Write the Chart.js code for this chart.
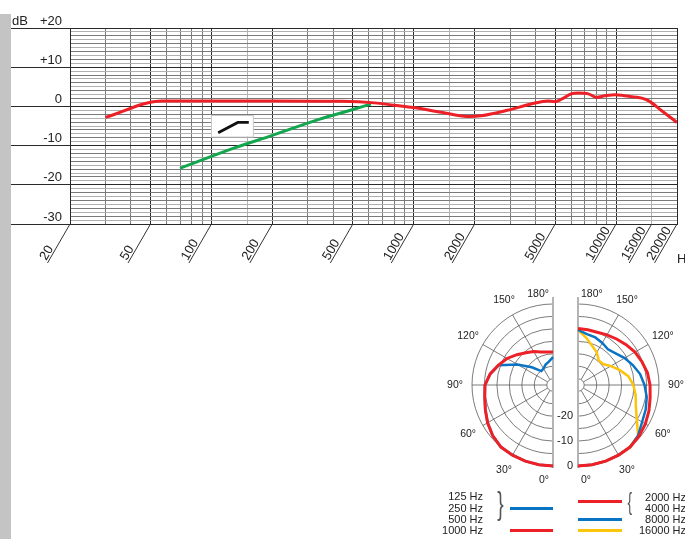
<!DOCTYPE html>
<html>
<head>
<meta charset="utf-8">
<script src="https://cdn.jsdelivr.net/npm/chart.js@4.4.1/dist/chart.umd.min.js"></script>
<style>
  html, body { margin: 0; padding: 0; background: #fff; overflow: hidden; }
  #page { position: relative; width: 685px; height: 539px; overflow: hidden; font-family: "Liberation Sans", Arial, sans-serif; }
  #strip { position: absolute; left: 0; top: 14px; width: 11px; height: 525px; background: #c4c4c4; }
  canvas { position: absolute; }
  .lg { position: absolute; font-size: 11px; line-height: 12px; color: #222; white-space: nowrap; }
  .sw { position: absolute; height: 3px; }
  .br { position: absolute; color: #555; line-height: 1; }
</style>
</head>
<body>
<div id="page">
  <div id="strip"></div>
  <canvas id="resp" width="685" height="290" style="left:0;top:0;"></canvas>
  <canvas id="polarLow" width="220" height="220" style="left:443px;top:275px;"></canvas>
  <canvas id="polarHigh" width="220" height="220" style="left:468px;top:275px;"></canvas>

  <!-- legend, left group -->
  <div class="lg" style="left:420px;width:63px;text-align:right;top:490px;">125 Hz</div>
  <div class="lg" style="left:420px;width:63px;text-align:right;top:501.5px;">250 Hz</div>
  <div class="lg" style="left:420px;width:63px;text-align:right;top:513px;">500 Hz</div>
  <div class="lg" style="left:420px;width:63px;text-align:right;top:524px;">1000 Hz</div>
  <div class="br" style="left:495px;top:487px;font-size:32px;transform:scaleX(0.6);">}</div>
  <div class="sw" style="left:510px;top:507px;width:43px;background:#0a74c4;"></div>
  <div class="sw" style="left:510px;top:529px;width:43px;background:#ee2027;"></div>

  <!-- legend, right group -->
  <div class="sw" style="left:578px;top:500px;width:44px;background:#ee2027;"></div>
  <div class="br" style="left:626px;top:491px;font-size:23px;transform:scaleX(0.6);">{</div>
  <div class="lg" style="left:620px;width:66px;text-align:right;top:490.5px;">2000 Hz</div>
  <div class="lg" style="left:620px;width:66px;text-align:right;top:501.5px;">4000 Hz</div>
  <div class="lg" style="left:620px;width:66px;text-align:right;top:513px;">8000 Hz</div>
  <div class="lg" style="left:620px;width:66px;text-align:right;top:523.5px;">16000 Hz</div>
  <div class="sw" style="left:578px;top:518px;width:44px;background:#0a74c4;"></div>
  <div class="sw" style="left:578px;top:529px;width:44px;background:#fcc40a;"></div>
</div>

<script>
    // frequency response (Hz / dB)
    var respHz = [30, 57, 100, 200, 440, 640, 800, 1000, 1370, 1900, 2150, 2900, 3800, 4600, 5000, 5400, 6000, 6500, 7300, 8000, 8800, 9900, 11000, 13400, 14500, 16800, 20000];
    var respDb = [-2.8, 1.4, 1.4, 1.4, 1.3, 0.9, 0.3, -0.3, -1.5, -2.6, -2.4, -1.0, 0.6, 1.4, 1.2, 1.9, 3.2, 3.4, 3.2, 2.3, 2.7, 3.0, 2.7, 2.1, 1.4, -1.1, -4.1];
    // bass cut filter
    var cutHz = [70, 130, 200, 340, 500, 614];
    var cutDb = [-15.8, -10.6, -7.4, -3.3, -0.8, 0.6];

    var freqTicks = [20, 30, 40, 50, 60, 70, 80, 90, 100, 150, 200, 300, 400, 500, 600, 700, 800, 900, 1000, 1500, 2000, 3000, 4000, 5000, 6000, 7000, 8000, 9000, 10000, 15000, 20000];
    var freqLabels = [20, 50, 100, 200, 500, 1000, 2000, 5000, 10000, 15000, 20000];
    var darkFreqs = [20, 50, 100, 200, 500, 1000, 2000, 5000, 10000, 20000];
    var dbMajor = [20, 10, 0, -10, -20, -30];
    var dbLabels = ['+20', '+10', '0', '-10', '-20', '-30'];

    // polar patterns, 0..180 deg in 10 deg steps
    var polarAngles = [0, 10, 20, 30, 40, 50, 60, 70, 80, 90, 100, 110, 120, 130, 140, 150, 160, 170, 180];
    var low1000 = [0, 0, 0, 0, 0, -0.9, -2.2, -3.6, -4.7, -5.2, -6.9, -9.2, -11.2, -13.6, -15.6, -17, -18.4, -19.1, -19.3];
    var low125to500 = [0, 0, 0, 0, 0, -0.9, -2.2, -3.6, -4.7, -5.2, -6.9, -9.3, -16, -21.4, -25.2, -24.9, -23.8, -23, -21.3];
    var high2000to4000 = [0, 0, 0, 0, 0, -0.5, -1.3, -2.2, -3.1, -3.6, -4.2, -5.2, -6.1, -7.3, -8.4, -9.3, -10, -10, -9.8];
    var high8000 = [0, 0, 0, 0, 0, -1.0, -2.8, -3.6, -4.5, -5.8, -7.2, -9.1, -10.9, -12.8, -13.8, -13, -12.2, -11.8, -10.4];
    var high16000 = [0, 0, 0, 0, 0, -1.0, -5.3, -7.8, -9.0, -10.3, -12.0, -14.8, -17.3, -19.4, -19.6, -17.4, -15.8, -13.3, -10.4];
    var ringValues = [-30, -25, -20, -15, -10, -5, 0];
    var ringLabels = ['-20', '-10', '0'];

    var RED = '#ee2027', GREEN = '#13a64f', BLUE = '#0a74c4', YELLOW = '#fcc40a';
    var FONT = '"Liberation Sans", Arial, sans-serif';

    function pts(xs, ys) {
        return xs.map(function (x, i) { return {x: x, y: ys[i]}; });
    }

    //labels, slanted ticks and the filter symbol
    var respDecor = {
        id: 'respDecor',
        afterDraw: function (chart) {
            var ctx = chart.ctx, xs = chart.scales.x, ys = chart.scales.y, area = chart.chartArea;
            ctx.save();
            ctx.fillStyle = '#222';
            ctx.font = '13px ' + FONT;
            ctx.textAlign = 'right';
            ctx.textBaseline = 'alphabetic';
            dbMajor.forEach(function (v, i) {
                ctx.fillText(dbLabels[i], 62, ys.getPixelForValue(v) - 3.5);
            });
            ctx.textAlign = 'left';
            ctx.fillText('dB', 12, ys.getPixelForValue(20) - 3.5);

            var ang = 60 * Math.PI / 180, len = 45;
            ctx.strokeStyle = '#333';
            ctx.lineWidth = 1;
            freqLabels.forEach(function (f) {
                var x = xs.getPixelForValue(f), y = area.bottom;
                var x2 = x - len * Math.cos(ang), y2 = y + len * Math.sin(ang);
                ctx.beginPath();
                ctx.moveTo(x, y);
                ctx.lineTo(x2, y2);
                ctx.stroke();
                ctx.save();
                ctx.translate(x2, y2);
                ctx.rotate(-ang);
                ctx.fillText(String(f), 1, -2);
                ctx.restore();
            });
            ctx.fillText('Hz', 677, 263);

            // filter symbol
            var bx1 = xs.getPixelForValue(100), bx2 = xs.getPixelForValue(161);
            var by1 = ys.getPixelForValue(-2.2), by2 = ys.getPixelForValue(-7.7);
            ctx.fillStyle = '#fff';
            ctx.fillRect(bx1, by1, bx2 - bx1, by2 - by1);
            ctx.strokeStyle = '#c8c8c8';
            ctx.strokeRect(Math.round(bx1) + 0.5, Math.round(by1) + 0.5, bx2 - bx1, by2 - by1);
            ctx.strokeStyle = '#111';
            ctx.lineWidth = 2.8;
            ctx.beginPath();
            ctx.moveTo(xs.getPixelForValue(108), ys.getPixelForValue(-6.7));
            ctx.lineTo(xs.getPixelForValue(135), ys.getPixelForValue(-4.1));
            ctx.lineTo(xs.getPixelForValue(153), ys.getPixelForValue(-4.1));
            ctx.stroke();
            ctx.restore();
        }
    };

    var ctxR = document.getElementById('resp').getContext('2d');
    var respChart = new Chart(ctxR, {
        type: 'line',
        data: {
            datasets: [
                {label: 'response', data: pts(respHz, respDb), borderColor: RED, borderWidth: 3, pointRadius: 0, cubicInterpolationMode: 'monotone'},
                {label: 'bass cut', data: pts(cutHz, cutDb), borderColor: GREEN, borderWidth: 3, pointRadius: 0, cubicInterpolationMode: 'monotone'}
            ]
        },
        options: {
            responsive: false,
            animation: false,
            events: [],
            layout: {padding: {left: 11, right: 8, top: 28, bottom: 66}},
            plugins: {legend: {display: false}, tooltip: {enabled: false}},
            scales: {
                x: {
                    type: 'logarithmic', min: 20, max: 20000,
                    afterBuildTicks: function (s) { s.ticks = freqTicks.map(function (v) { return {value: v}; }); },
                    ticks: {display: false},
                    grid: {
                        drawTicks: false,
                        color: function (c) {
                            var v = c.tick ? c.tick.value : 0;
                            if (darkFreqs.indexOf(v) >= 0) return '#2a2a2a';
                            if (v === 150 || v === 1500 || v === 15000) return '#b4b4b4';
                            return '#777';
                        }
                    },
                    border: {color: '#2a2a2a'}
                },
                y: {
                    min: -30, max: 20,
                    afterBuildTicks: function (s) {
                        var t = [];
                        for (var v = -30; v <= 20; v++) t.push({value: v});
                        s.ticks = t;
                    },
                    ticks: {display: false},
                    grid: {
                        drawTicks: true, tickLength: 59,
                        color: function (c) {
                            var v = c.tick ? c.tick.value : 0;
                            if (v % 10 === 0) return '#2a2a2a';
                            return (Math.abs(v) % 2 === 0) ? '#7a7a7a' : '#b0b0b0';
                        },
                        tickColor: function (c) {
                            var v = c.tick ? c.tick.value : 1;
                            return v % 10 === 0 ? '#2a2a2a' : 'rgba(0,0,0,0)';
                        }
                    },
                    border: {color: '#2a2a2a'}
                }
            }
        },
        plugins: [respDecor]
    });

    // half polar grid drawn through the radial scale
    function polarGrid(side) {
        return {
            id: 'polarGrid',
            beforeDatasetsDraw: function (chart) {
                var s = chart.scales.r, ctx = chart.ctx;
                var cx = s.xCenter, cy = s.yCenter, R = s.drawingArea;
                var a0 = side === 'left' ? Math.PI / 2 : -Math.PI / 2;
                ctx.save();
                ctx.strokeStyle = '#5a5a5a';
                ctx.lineWidth = 0.8;
                ringValues.forEach(function (v) {
                    ctx.beginPath();
                    ctx.arc(cx, cy, s.getDistanceFromCenterForValue(v), a0, a0 + Math.PI);
                    ctx.stroke();
                });
                [3, 6, 9, 12, 15].forEach(function (i) {
                    var p1 = s.getPointPositionForValue(i, -30), p2 = s.getPointPositionForValue(i, 0);
                    ctx.beginPath();
                    ctx.moveTo(p1.x, p1.y);
                    ctx.lineTo(p2.x, p2.y);
                    ctx.stroke();
                });
                ctx.strokeStyle = '#b4b4b4';
                ctx.lineWidth = 2;
                ctx.beginPath();
                ctx.moveTo(cx, cy - R - 7);
                ctx.lineTo(cx, cy + R + 2);
                ctx.stroke();

                ctx.fillStyle = '#222';
                ctx.font = '10.5px ' + FONT;
                ctx.textBaseline = 'middle';
                [0, 3, 6, 9, 12, 15, 18].forEach(function (i) {
                    var deg = side === 'left' ? polarAngles[i] : polarAngles[18 - i];
                    var txt = deg + '\u00b0';
                    if (deg === 180 || deg === 0) {
                        ctx.textAlign = side === 'left' ? 'right' : 'left';
                        var tx = side === 'left' ? cx - 4 : cx + 3;
                        ctx.fillText(txt, tx, deg === 180 ? cy - R - 10 : cy + R + 14);
                    } else {
                        var p = s.getPointPosition(i, R + 17);
                        ctx.textAlign = 'center';
                        ctx.fillText(txt, p.x, p.y);
                    }
                });
                if (side === 'right') {
                    ctx.font = '11px ' + FONT;
                    ctx.textAlign = 'right';
                    ringLabels.forEach(function (t) {
                        ctx.fillText(t, cx - 5, cy + s.getDistanceFromCenterForValue(Number(t)));
                    });
                }
                ctx.restore();
            }
        };
    }

    function polarChart(id, side, sets) {
        var nulls = [];
        for (var k = 0; k < 17; k++) nulls.push(null);
        var labels = [];
        for (var j = 0; j < 36; j++) labels.push(String(j * 10));
        return new Chart(document.getElementById(id).getContext('2d'), {
            type: 'radar',
            data: {
                labels: labels,
                datasets: sets.map(function (d) {
                    var vals = side === 'left' ? d.values.slice() : d.values.slice().reverse();
                    return {label: d.label, data: vals.concat(nulls), borderColor: d.color, borderWidth: d.width,
                        fill: false, backgroundColor: 'rgba(0,0,0,0)', pointRadius: 0, tension: 0, spanGaps: false};
                })
            },
            options: {
                responsive: false,
                animation: false,
                events: [],
                layout: {padding: 29},
                plugins: {legend: {display: false}, tooltip: {enabled: false}},
                scales: {
                    r: {
                        min: -32.5, max: 0,
                        startAngle: side === 'left' ? 180 : 0,
                        ticks: {display: false},
                        grid: {display: false},
                        angleLines: {display: false},
                        pointLabels: {display: false}
                    }
                }
            },
            plugins: [polarGrid(side)]
        });
    }

    var lowChart = polarChart('polarLow', 'left', [
        {label: '1000 Hz', values: low1000, color: RED, width: 3},
        {label: '125 Hz / 250 Hz / 500 Hz', values: low125to500, color: BLUE, width: 2.5}
    ]);
    var highChart = polarChart('polarHigh', 'right', [
        {label: '2000 Hz / 4000 Hz', values: high2000to4000, color: RED, width: 3},
        {label: '8000 Hz', values: high8000, color: BLUE, width: 2.5},
        {label: '16000 Hz', values: high16000, color: YELLOW, width: 2.5}
    ]);
</script>
</body>
</html>
